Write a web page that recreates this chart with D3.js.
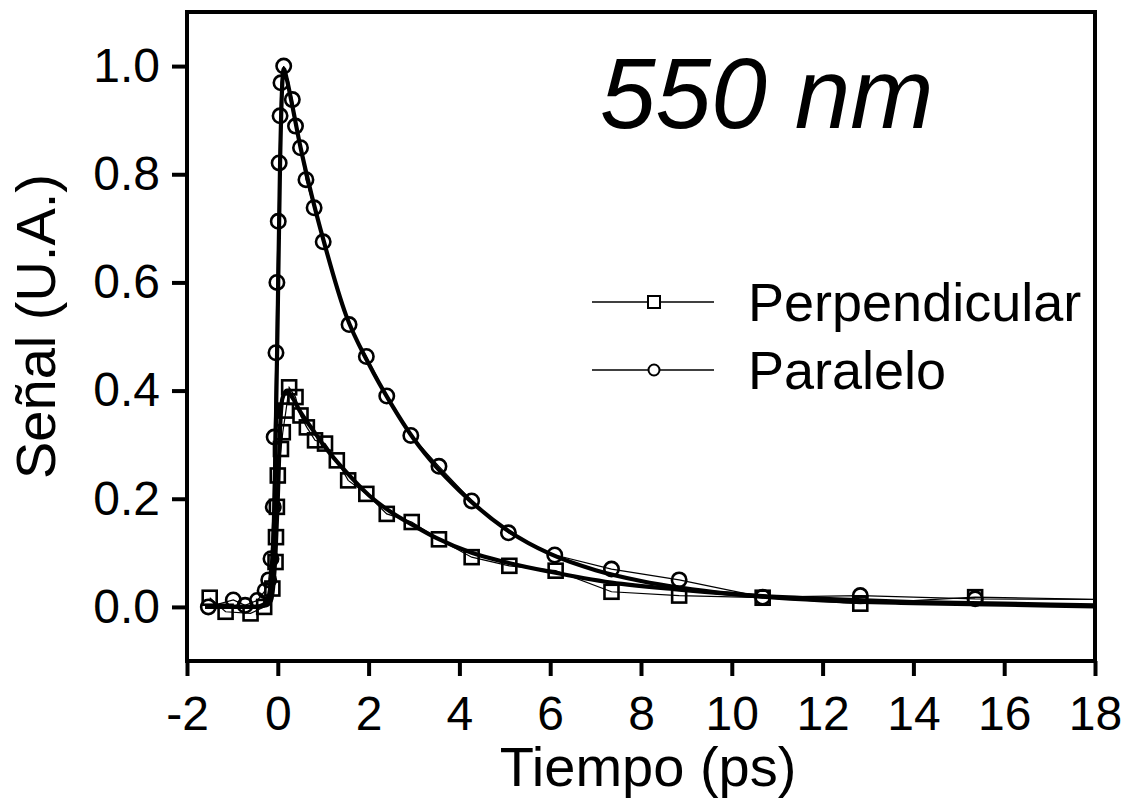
<!DOCTYPE html>
<html>
<head>
<meta charset="utf-8">
<script src="https://cdn.jsdelivr.net/npm/d3@7"></script>
<style>
  html, body { margin: 0; padding: 0; background: #fff; }
  svg { display: block; font-family: "Liberation Sans", Arial, sans-serif; }
</style>
</head>
<body>
<svg id="chart" width="1123" height="801"></svg>
<script>
// ---- data ----
const perpX = [-1.5, -1.15, -0.6, -0.3, -0.12, -0.05, -0.04, -0.02, 0.0, 0.07, 0.11, 0.18, 0.25, 0.39, 0.5, 0.64, 0.82, 1.04, 1.3, 1.55, 1.95, 2.4, 2.95, 3.55, 4.27, 5.1, 6.12, 7.35, 8.84, 10.68, 12.83, 15.36, 19.5];
const perpY = [0.017, -0.009, -0.012, 0.0, 0.034, 0.083, 0.129, 0.185, 0.243, 0.292, 0.323, 0.363, 0.406, 0.388, 0.354, 0.332, 0.308, 0.302, 0.271, 0.234, 0.209, 0.172, 0.157, 0.125, 0.092, 0.076, 0.067, 0.028, 0.021, 0.017, 0.006, 0.018, 0.012];

const paraX = [-1.53, -0.98, -0.72, -0.45, -0.28, -0.2, -0.15, -0.1, -0.08, -0.04, -0.02, 0.01, 0.03, 0.05, 0.07, 0.13, 0.32, 0.39, 0.5, 0.62, 0.8, 1.0, 1.57, 1.95, 2.4, 2.93, 3.55, 4.27, 5.08, 6.1, 7.35, 8.84, 10.68, 12.83, 15.36, 19.5];
const paraY = [0.0, 0.013, 0.003, 0.012, 0.03, 0.05, 0.089, 0.185, 0.314, 0.47, 0.6, 0.713, 0.821, 0.908, 0.969, 1.0, 0.938, 0.889, 0.849, 0.79, 0.738, 0.675, 0.522, 0.463, 0.39, 0.317, 0.26, 0.196, 0.137, 0.096, 0.07, 0.05, 0.018, 0.021, 0.015, 0.013];

// fitted curves (thick lines)
const fitParaX = [-1.6, -0.5, -0.3, -0.2, -0.1, -0.05, 0.0, 0.05, 0.1, 0.13, 0.2, 0.3, 0.5, 0.75, 1.0, 1.5, 2.0, 2.5, 3.0, 3.5, 4.0, 5.0, 6.0, 7.0, 8.0, 10.0, 12.0, 14.0, 16.0, 18.0];
const fitParaY = [0.0, 0.0, 0.005, 0.02, 0.12, 0.3, 0.55, 0.82, 0.97, 0.995, 0.975, 0.935, 0.85, 0.76, 0.68, 0.54, 0.45, 0.375, 0.31, 0.258, 0.215, 0.145, 0.098, 0.068, 0.048, 0.024, 0.012, 0.007, 0.004, 0.001];

const fitPerpX = [-1.6, -0.5, -0.25, -0.15, -0.05, 0.0, 0.05, 0.1, 0.2, 0.3, 0.5, 0.75, 1.0, 1.5, 2.0, 2.5, 3.0, 3.5, 4.27, 5.0, 6.0, 7.35, 8.84, 10.68, 12.0, 14.0, 16.0, 18.0];
const fitPerpY = [0.0, 0.0, 0.003, 0.012, 0.1, 0.2, 0.33, 0.385, 0.4, 0.39, 0.36, 0.33, 0.3, 0.25, 0.207, 0.175, 0.15, 0.127, 0.1, 0.083, 0.065, 0.045, 0.032, 0.02, 0.015, 0.009, 0.006, 0.003];

const xTicks = [-2, 0, 2, 4, 6, 8, 10, 12, 14, 16, 18];
const yTicks = [0.0, 0.2, 0.4, 0.6, 0.8, 1.0];
const seriesNames = ["Perpendicular", "Paralelo"];
const titleText = "550 nm";
const xTitle = "Tiempo (ps)";
const yTitle = "Señal (U.A.)";

// ---- layout ----
const L = 187, T = 12, R = 1095, B = 661;
const svg = d3.select("#chart");
const x = d3.scaleLinear().domain([-2, 18]).range([L, R]);
const y = d3.scaleLinear().domain([-0.1, 1.1]).range([B, T]);

svg.append("defs").append("clipPath").attr("id", "clip")
  .append("rect").attr("x", L).attr("y", T).attr("width", R - L).attr("height", B - T);

const plot = svg.append("g").attr("clip-path", "url(#clip)");

const perp = perpX.map((v, i) => [v, perpY[i]]);
const para = paraX.map((v, i) => [v, paraY[i]]);
const fitPara = fitParaX.map((v, i) => [v, fitParaY[i]]);
const fitPerp = fitPerpX.map((v, i) => [v, fitPerpY[i]]);

const line = d3.line().x(d => x(d[0])).y(d => y(d[1]));
const curve = d3.line().x(d => x(d[0])).y(d => y(d[1])).curve(d3.curveMonotoneX);

// thin data lines
[perp, para].forEach(s => {
  plot.append("path").attr("d", line(s)).attr("fill", "none")
    .attr("stroke", "#000").attr("stroke-width", 1.2);
});

// markers
plot.selectAll(".sq").data(perp).join("rect")
  .attr("x", d => x(d[0]) - 7).attr("y", d => y(d[1]) - 7)
  .attr("width", 14).attr("height", 14)
  .attr("fill", "none").attr("stroke", "#000").attr("stroke-width", 2.6);
plot.selectAll(".ci").data(para).join("circle")
  .attr("cx", d => x(d[0])).attr("cy", d => y(d[1])).attr("r", 7.2)
  .attr("fill", "none").attr("stroke", "#000").attr("stroke-width", 2.6);

// thick fit curves
[fitPerp, fitPara].forEach(s => {
  plot.append("path").attr("d", curve(s)).attr("fill", "none")
    .attr("stroke", "#000").attr("stroke-width", 4.2).attr("stroke-linejoin", "round");
});

// ---- axes ----
const fmtX = d => String(d);
const xAxis = d3.axisBottom(x).tickValues(xTicks).tickSize(15).tickPadding(20)
  .tickFormat(fmtX);
const gx = svg.append("g").attr("transform", `translate(0,${B})`).call(xAxis);
gx.select(".domain").remove();
gx.selectAll(".tick line").attr("stroke", "#000").attr("stroke-width", 4);
gx.selectAll(".tick text").attr("font-size", 48).attr("fill", "#000")
  .attr("font-family", "Liberation Sans, Arial, sans-serif");

const yAxis = d3.axisLeft(y).tickValues(yTicks).tickSize(15).tickPadding(12)
  .tickFormat(d => d.toFixed(1));
const gy = svg.append("g").attr("transform", `translate(${L},0)`).call(yAxis);
gy.select(".domain").remove();
gy.selectAll(".tick line").attr("stroke", "#000").attr("stroke-width", 4);
gy.selectAll(".tick text").attr("font-size", 48).attr("fill", "#000")
  .attr("font-family", "Liberation Sans, Arial, sans-serif");

// frame
svg.append("rect").attr("x", L).attr("y", T).attr("width", R - L).attr("height", B - T)
  .attr("fill", "none").attr("stroke", "#000").attr("stroke-width", 4);

// titles
svg.append("text").attr("x", 648).attr("y", 786).attr("text-anchor", "middle")
  .attr("font-size", 56).text(xTitle);
svg.append("text").attr("transform", `translate(55,${(T + B) / 2 - 10}) rotate(-90)`)
  .attr("text-anchor", "middle").attr("font-size", 56).text(yTitle);

svg.append("text").attr("x", 600).attr("y", 128).attr("font-size", 100)
  .attr("font-style", "italic").text(titleText);

// legend
const legY = [302, 370];
const leg = svg.append("g");
seriesNames.forEach((name, i) => {
  const g = leg.append("g").attr("transform", `translate(0,${legY[i]})`);
  g.append("line").attr("x1", 592).attr("x2", 714).attr("y1", 0).attr("y2", 0)
    .attr("stroke", "#000").attr("stroke-width", 1.5);
  if (i === 0) {
    g.append("rect").attr("x", 648).attr("y", -6).attr("width", 12).attr("height", 12)
      .attr("fill", "#fff").attr("stroke", "#000").attr("stroke-width", 2);
  } else {
    g.append("circle").attr("cx", 654).attr("cy", 0).attr("r", 5.5)
      .attr("fill", "#fff").attr("stroke", "#000").attr("stroke-width", 2);
  }
  g.append("text").attr("x", 748).attr("y", 19).attr("font-size", 54).text(name);
});
</script>
</body>
</html>
